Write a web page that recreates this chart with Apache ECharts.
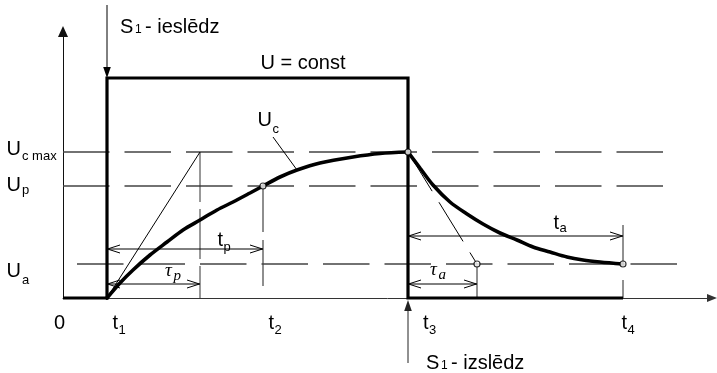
<!DOCTYPE html>
<html>
<head>
<meta charset="utf-8">
<script src="https://cdn.jsdelivr.net/npm/echarts@6/dist/echarts.min.js"></script>
<style>
  html, body { margin: 0; padding: 0; background: #fff; }
  #chart { width: 717px; height: 373px; }
</style>
</head>
<body>
<div id="chart"></div>
<script>
// Switching instants (time axis) and their labels
const timeNames  = ['0', 't', 't', 't', 't'];
const timeSubs   = ['', '1', '2', '3', '4'];
const timeValues = [0, 4.4, 20.0, 34.5, 56.0];

// Voltage levels marked on the vertical axis
const levelSubs   = ['c max', 'p', 'a'];
const levelValues = [14.6, 11.2, 3.4];

// Supply voltage while S1 is closed
const supplyVoltage = 22.0;

// Time constants of charging and discharging
const tauP = 9.3;
const tauA = 6.9;

// Capacitor voltage Uc while charging (t1..t3) and discharging (t3..t4)
const chargeCurve = [
  [4.4, 0], [5.7, 1.5], [7.0, 2.8], [8.7, 4.3], [10.4, 5.6], [12.0, 6.8],
  [13.7, 7.8], [15.4, 8.8], [17.0, 9.6], [18.7, 10.5], [20.0, 11.2],
  [21.7, 12.1], [23.4, 12.8], [25.7, 13.5], [29.0, 14.1], [31.7, 14.45], [34.5, 14.6]
];
const dischargeCurve = [
  [34.5, 14.6], [35.7, 13.0], [37.0, 11.3], [38.7, 9.6], [40.4, 8.4], [42.0, 7.4],
  [43.7, 6.5], [45.4, 5.8], [47.0, 5.1], [48.7, 4.6], [50.4, 4.1], [52.0, 3.8],
  [53.7, 3.6], [56.0, 3.4]
];

// Extent of the dashed level guides
const guideFrom = [0, 0, 1.4];
const guideTo   = [60.0, 60.0, 61.4];

// ---------------------------------------------------------------------------
const t1 = timeValues[1], t2 = timeValues[2], t3 = timeValues[3], t4 = timeValues[4];
const uMax = levelValues[0], uP = levelValues[1], uA = levelValues[2];
const tauPEnd = t1 + tauP;
const tauAEnd = t3 + tauA;
const leaderPoint = chargeCurve[12];

const SANS = '"Liberation Sans", Arial, sans-serif';
const SERIF = '"Liberation Serif", "Times New Roman", serif';
const INK = '#000';
const GUIDE = '#444';

// rows (in volts) on which the dimension arrows sit
const rowTp = 4.9, rowTauP = 1.4, rowTauA = 1.4, rowTa = 6.2;
const dimensionData = [
  [t1, t2, rowTp],
  [t1, tauPEnd, rowTauP],
  [t3, tauAEnd, rowTauA],
  [t3, t4, rowTa]
];

function text(x, baseline, str, size, family, italic) {
  return {
    type: 'text', x: x, y: baseline - 0.3465 * size, silent: true,
    style: {
      text: str,
      font: (italic ? 'italic ' : '') + size + 'px ' + (family || SANS),
      fill: INK, align: 'left', verticalAlign: 'middle'
    }
  };
}

function filledArrow(x, yTail, yTip, color) {
  const dir = Math.sign(yTip - yTail);
  const L = 11, hw = 3.8;
  return [
    { type: 'line', shape: { x1: x, y1: yTail, x2: x, y2: yTip - dir * L }, style: { stroke: color, lineWidth: 1 } },
    { type: 'polygon', shape: { points: [[x, yTip], [x - hw, yTip - dir * L], [x + hw, yTip - dir * L]] }, style: { fill: color } }
  ];
}

function lineSeries(data, style, z) {
  return {
    type: 'line', data: data, symbol: 'none', silent: true, clip: false,
    animation: false, z: z || 2, lineStyle: style
  };
}

function renderAnnotations(params, api) {
  const P = (x, y) => api.coord([x, y]);
  const kids = [];
  const origin = P(0, 0);
  const y0 = origin[1];

  // time labels below the axis
  const timeLabelDx = [-9, 5.5, 5.5, 15, -1.5];
  timeValues.forEach(function (tv, i) {
    const x = P(tv, 0)[0] + timeLabelDx[i];
    kids.push(text(x, y0 + 32, timeNames[i], 20));
    if (timeSubs[i]) kids.push(text(x + 6, y0 + 37, timeSubs[i], 13));
  });

  // level labels left of the vertical axis
  const levelDy = [[4.5, 8.5], [6, 9], [14, 21]];
  levelValues.forEach(function (v, i) {
    const y = P(0, v)[1];
    kids.push(text(origin[0] - 56.5, y + levelDy[i][0], 'U', 20));
    kids.push(text(origin[0] - 41, y + levelDy[i][1], levelSubs[i], 13));
  });

  // S1 switching on
  const on = P(t1, supplyVoltage);
  filledArrow(on[0], on[1] - 73, on[1], INK).forEach(e => kids.push(e));
  kids.push(text(on[0] + 13, on[1] - 44, 'S', 20));
  kids.push(text(on[0] + 28, on[1] - 44, '1', 12));
  kids.push(text(on[0] + 38, on[1] - 44, '- ieslēdz', 20));

  // supply label
  const midX = (P(t1, 0)[0] + P(t3, 0)[0]) / 2;
  kids.push(text(midX + 3, on[1] - 8, 'U = const', 20));

  // S1 switching off
  const off = P(t3, 0);
  filledArrow(off[0], off[1] + 65, off[1] + 2, '#222').forEach(e => kids.push(e));
  kids.push(text(off[0] + 18, y0 + 72, 'S', 20));
  kids.push(text(off[0] + 33, y0 + 72, '1', 12));
  kids.push(text(off[0] + 43, y0 + 72, '- izslēdz', 20));

  // Uc leader
  const lp = P(leaderPoint[0], leaderPoint[1]);
  kids.push({ type: 'line', shape: { x1: lp[0] - 24, y1: lp[1] - 33, x2: lp[0], y2: lp[1] }, style: { stroke: INK, lineWidth: 1 } });
  kids.push(text(lp[0] - 39.5, lp[1] - 43, 'U', 20));
  kids.push(text(lp[0] - 24.5, lp[1] - 36, 'c', 13));

  // dimension labels
  const tpY = P(0, rowTp)[1];
  const tpX = (P(t1, 0)[0] + P(t2, 0)[0]) / 2 + 32.5;
  kids.push(text(tpX, tpY - 2, 't', 20));
  kids.push(text(tpX + 6, tpY + 2.5, 'p', 13));

  const tauPY = P(0, rowTauP)[1];
  const tauPX = P(t1, 0)[0] + 58;
  kids.push(text(tauPX, tauPY - 6, 'τ', 19, SERIF, true));
  kids.push(text(tauPX + 8.5, tauPY - 3, 'p', 15, SERIF, true));

  const tauAY = P(0, rowTauA)[1];
  const tauAX = P(t3, 0)[0] + 22;
  kids.push(text(tauAX, tauAY - 7, 'τ', 19, SERIF, true));
  kids.push(text(tauAX + 8.5, tauAY - 4, 'a', 15, SERIF, true));

  const taY = P(0, rowTa)[1];
  const taX = (P(t3, 0)[0] + P(t4, 0)[0]) / 2 + 38;
  kids.push(text(taX, taY - 6, 't', 20));
  kids.push(text(taX + 6, taY - 3.5, 'a', 13));

  return { type: 'group', children: kids };
}

function renderDimension(params, api) {
  const a = api.coord([api.value(0), api.value(2)]);
  const b = api.coord([api.value(1), api.value(2)]);
  const L = 13, W = 4;
  const st = { stroke: INK, lineWidth: 1, fill: null };
  return {
    type: 'group',
    children: [
      { type: 'line', shape: { x1: a[0], y1: a[1], x2: b[0], y2: b[1] }, style: st },
      { type: 'polyline', shape: { points: [[a[0] + L, a[1] - W], [a[0] + 0.5, a[1]], [a[0] + L, a[1] + W]] }, style: st },
      { type: 'polyline', shape: { points: [[b[0] - L, b[1] - W], [b[0] - 0.5, b[1]], [b[0] - L, b[1] + W]] }, style: st }
    ]
  };
}

const chart = echarts.init(document.getElementById('chart'), null, { renderer: 'canvas' });

const guideSeries = levelValues.map(function (v, i) {
  return lineSeries([[guideFrom[i], v], [guideTo[i], v]],
    { color: GUIDE, width: 1.3, type: [46.5, 15] }, 1);
});

chart.setOption({
  animation: false,
  backgroundColor: '#fff',
  grid: { left: 63, right: 5, top: 31.5, bottom: 75 },
  xAxis: {
    type: 'value', min: 0, max: 64.9,
    axisLine: { show: true, onZero: true, symbol: ['none', 'triangle'], symbolSize: [8, 10], lineStyle: { color: '#333', width: 1 } },
    axisTick: { show: false }, axisLabel: { show: false }, splitLine: { show: false }
  },
  yAxis: {
    type: 'value', min: 0, max: 26.65,
    axisLine: { show: true, onZero: false, symbol: ['none', 'triangle'], symbolSize: [10, 11], lineStyle: { color: '#111', width: 1 } },
    axisTick: { show: false }, axisLabel: { show: false }, splitLine: { show: false }
  },
  series: guideSeries.concat([
    // extension lines
    lineSeries([[tauPEnd, uMax], [tauPEnd, 0]], { color: '#333', width: 1, type: [50, 7] }, 2),
    lineSeries([[t2, uP], [t2, 0.5]], { color: '#444', width: 1.2, type: [46, 8] }, 2),
    lineSeries([[tauAEnd, uA], [tauAEnd, 0]], { color: '#222', width: 1 }, 2),
    lineSeries([[t4, rowTa + 1.1], [t4, 0]], { color: '#222', width: 1, type: [38, 17] }, 2),
    // tangents
    lineSeries([[t1, 0], [tauPEnd, uMax]], { color: INK, width: 1 }, 3),
    lineSeries([[t3, uMax], [tauAEnd, uA]], { color: INK, width: 1, type: [46, 13] }, 3),
    // supply voltage step
    lineSeries([[0, 0], [t1, 0], [t1, supplyVoltage], [t3, supplyVoltage], [t3, 0], [t4, 0]],
      { color: INK, width: 3.2, join: 'miter', cap: 'butt' }, 4),
    // capacitor voltage
    Object.assign(lineSeries(chargeCurve, { color: INK, width: 3.6, cap: 'round' }, 5), { smooth: 0.3 }),
    Object.assign(lineSeries(dischargeCurve, { color: INK, width: 3.6, cap: 'round' }, 5), { smooth: 0.3 }),
    // characteristic points
    {
      type: 'scatter', silent: true, z: 8, symbol: 'circle', symbolSize: 6,
      data: [[t2, uP], [t3, uMax], [tauAEnd, uA], [t4, uA]],
      itemStyle: { color: '#fff', borderColor: INK, borderWidth: 1.2 }
    },
    {
      type: 'custom', coordinateSystem: 'cartesian2d', silent: true, z: 6,
      data: dimensionData, encode: { x: [0, 1], y: 2 }, renderItem: renderDimension
    },
    {
      type: 'custom', coordinateSystem: 'cartesian2d', silent: true, z: 7,
      data: [[0, 0]], encode: { x: 0, y: 1 }, renderItem: renderAnnotations
    }
  ])
});
</script>
</body>
</html>
